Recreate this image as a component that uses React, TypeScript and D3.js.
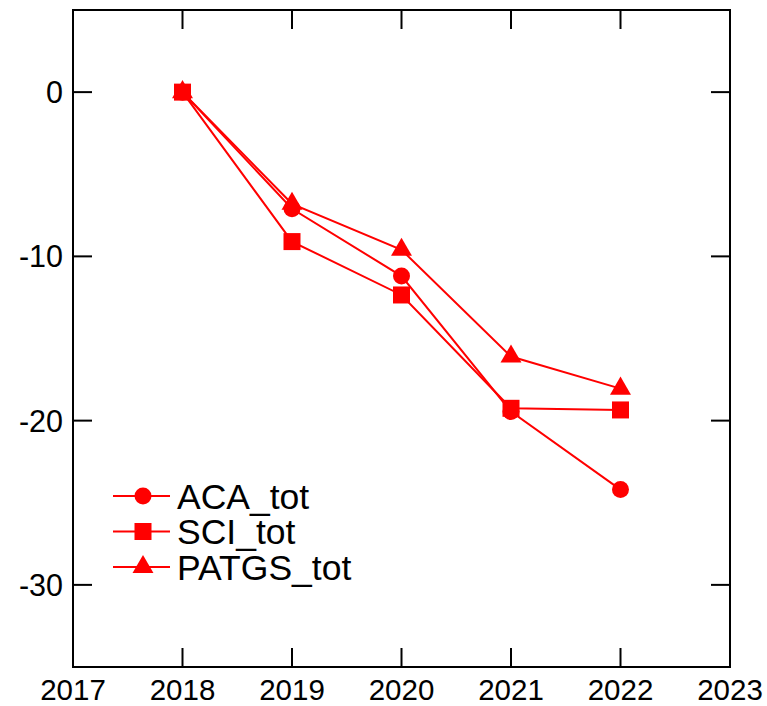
import React from 'react';
import * as d3 from 'd3';

const years = [2018, 2019, 2020, 2021, 2022];
const acaTot = [0, -7.1, -11.2, -19.45, -24.2];
const sciTot = [0, -9.1, -12.35, -19.25, -19.35];
const patgsTot = [0, -6.8, -9.6, -16.1, -18.05];
const xTicks = [2017, 2018, 2019, 2020, 2021, 2022, 2023];
const yTicks = [0, -10, -20, -30];

const seriesList = [
  { name: 'ACA_tot', values: acaTot, shape: 'circle' },
  { name: 'SCI_tot', values: sciTot, shape: 'square' },
  { name: 'PATGS_tot', values: patgsTot, shape: 'triangle' },
];

const width = 767;
const height = 706;
const margin = { top: 10, right: 37, bottom: 39, left: 73 };
const red = '#ff0000';
const font = '"Liberation Sans", Arial, Helvetica, sans-serif';

function marker(shape: string, cx: number, cy: number, key: string) {
  if (shape === 'circle') return <circle key={key} cx={cx} cy={cy} r={8.5} fill={red} />;
  if (shape === 'square')
    return <rect key={key} x={cx - 8.5} y={cy - 8.5} width={17} height={17} fill={red} />;
  const p = d3.symbol(d3.symbolTriangle, 190)();
  return <path key={key} d={p || ''} transform={`translate(${cx},${cy})`} fill={red} />;
}

export default function App() {
  const x = d3.scaleLinear().domain([2017, 2023]).range([margin.left, width - margin.right]);
  const y = d3.scaleLinear().domain([5, -35]).range([margin.top, height - margin.bottom]);
  const line = d3
    .line<number>()
    .x((_, i) => x(years[i]))
    .y((d) => y(d));

  const x0 = margin.left;
  const x1 = width - margin.right;
  const y0 = margin.top;
  const y1 = height - margin.bottom;
  const tick = 19;

  return (
    <svg
      width={width}
      height={height}
      style={{ position: 'absolute', left: 0, top: 0, background: '#fff' }}
      fontFamily={font}
    >
      <rect x={0} y={0} width={width} height={height} fill="#fff" />
      {/* series */}
      {seriesList.map((s) => (
        <g key={s.name}>
          <path d={line(s.values) || ''} fill="none" stroke={red} strokeWidth={2} />
          {s.values.map((v, i) => marker(s.shape, x(years[i]), y(v), s.name + i))}
        </g>
      ))}
      {/* frame */}
      <rect x={x0} y={y0} width={x1 - x0} height={y1 - y0} fill="none" stroke="#000" strokeWidth={2} />
      {xTicks.map((t) => (
        <g key={'x' + t}>
          <line x1={x(t)} x2={x(t)} y1={y1} y2={y1 - tick} stroke="#000" strokeWidth={2} />
          <line x1={x(t)} x2={x(t)} y1={y0} y2={y0 + tick} stroke="#000" strokeWidth={2} />
          <text x={x(t)} y={700} textAnchor="middle" fontSize={29.5} fill="#000">
            {t}
          </text>
        </g>
      ))}
      {yTicks.map((t) => (
        <g key={'y' + t}>
          <line x1={x0} x2={x0 + tick} y1={y(t)} y2={y(t)} stroke="#000" strokeWidth={2} />
          <line x1={x1} x2={x1 - tick} y1={y(t)} y2={y(t)} stroke="#000" strokeWidth={2} />
          <text x={63} y={y(t)} dy="0.36em" textAnchor="end" fontSize={30.5} fill="#000">
            {t}
          </text>
        </g>
      ))}
      {/* legend */}
      {seriesList.map((s, i) => {
        const ly = 496 + i * 35.5;
        return (
          <g key={'lg' + s.name}>
            <line x1={113} x2={170} y1={ly} y2={ly} stroke={red} strokeWidth={2} />
            {marker(s.shape, 143, ly, 'lm' + i)}
            <text x={177} y={ly} dy="0.36em" fontSize={35.5} fill="#000">
              {s.name}
            </text>
          </g>
        );
      })}
    </svg>
  );
}
